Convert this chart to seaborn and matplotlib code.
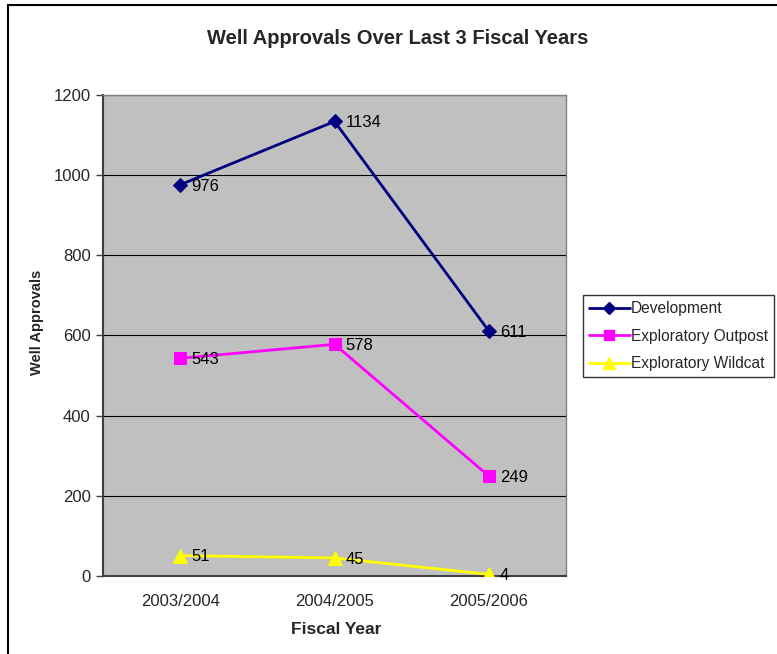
import matplotlib
matplotlib.use("Agg")
import matplotlib.pyplot as plt
from matplotlib.lines import Line2D
import seaborn as sns
import pandas as pd

# Data
years = ["2003/2004", "2004/2005", "2005/2006"]
development = [976, 1134, 611]
outpost = [543, 578, 249]
wildcat = [51, 45, 4]

series_names = ["Development", "Exploratory Outpost", "Exploratory Wildcat"]
series_values = [development, outpost, wildcat]
colors = {"Development": "#000080", "Exploratory Outpost": "#FF00FF",
          "Exploratory Wildcat": "#FFFF00"}
markers = {"Development": "D", "Exploratory Outpost": "s",
           "Exploratory Wildcat": "^"}
marker_sizes = {"Development": 7, "Exploratory Outpost": 8,
                "Exploratory Wildcat": 10}

rows = []
for name, vals in zip(series_names, series_values):
    for i, (yr, v) in enumerate(zip(years, vals)):
        rows.append({"pos": i, "Fiscal Year": yr, "Series": name, "Value": v})
df = pd.DataFrame(rows)

sns.set_style("white")
plt.rcParams["font.family"] = ["Liberation Sans", "DejaVu Sans"]

fig = plt.figure(figsize=(7.77, 6.54), dpi=100)
ax = fig.add_axes([0.1326, 0.1193, 0.5959, 0.7355])
ax.set_facecolor("#C0C0C0")

for name in series_names:
    sub = df[df["Series"] == name]
    sns.lineplot(data=sub, x="pos", y="Value", ax=ax, color=colors[name],
                 marker=markers[name], markersize=marker_sizes[name],
                 markeredgecolor=colors[name], linewidth=2, label=name,
                 zorder=3, legend=False)
    for _, r in sub.iterrows():
        ax.annotate(f"{r['Value']}", (r["pos"], r["Value"]),
                    xytext=(8, -1), textcoords="offset points",
                    ha="left", va="center", fontsize=12, color="black",
                    zorder=4)

ax.set_xlim(-0.5, 2.5)
ax.set_ylim(0, 1200)
ax.set_yticks(range(0, 1201, 200))
ax.set_xticks([0, 1, 2])
ax.set_xticklabels(years, fontsize=12)
ax.set_xticks([-0.5, 0.5, 1.5, 2.5], minor=True)
ax.tick_params(axis="x", which="major", length=0, pad=13)
ax.tick_params(axis="x", which="minor", length=5, width=1, color="#404040",
               direction="out")
ax.tick_params(axis="y", length=5, width=1, color="#404040", direction="out",
               labelsize=12, pad=4, left=True)
ax.yaxis.grid(True, color="black", linewidth=0.8, zorder=1)
ax.set_axisbelow(True)

for side in ["left", "bottom"]:
    ax.spines[side].set_color("#404040")
    ax.spines[side].set_linewidth(1.5)
for side in ["top", "right"]:
    ax.spines[side].set_color("#808080")
    ax.spines[side].set_linewidth(1)

ax.set_xlabel("")
ax.set_ylabel("")
fig.text(336 / 777, 1 - 630 / 654, "Fiscal Year", ha="center", va="center",
         fontsize=12.5, fontweight="bold")
fig.text(37 / 777, 1 - 322 / 654, "Well Approvals", ha="center", va="center",
         rotation=90, fontsize=10.5, fontweight="bold")
fig.text(397.5 / 777, 1 - 38 / 654, "Well Approvals Over Last 3 Fiscal Years",
         ha="center", va="center", fontsize=14.5, fontweight="bold")

handles = [Line2D([], [], color=colors[n], marker=markers[n],
                  markersize=marker_sizes[n] * 0.9, markeredgecolor=colors[n],
                  linewidth=2) for n in series_names]
leg = fig.legend(handles, series_names, loc="upper left",
                 bbox_to_anchor=(583 / 777, 1 - 295 / 654), fontsize=11.2,
                 frameon=True, fancybox=False, edgecolor="black",
                 handlelength=2.6, handletextpad=0.1, borderpad=0.4,
                 labelspacing=0.8, borderaxespad=0)
leg.get_frame().set_linewidth(1)

# Outer chart border
fig.add_artist(Line2D([8 / 777, 8 / 777], [0, 1 - 5 / 654], color="black",
                      linewidth=1.5, transform=fig.transFigure))
fig.add_artist(Line2D([8 / 777, 1], [1 - 5 / 654, 1 - 5 / 654],
                      color="black", linewidth=1.5,
                      transform=fig.transFigure))

fig.savefig("out.png", dpi=100)
